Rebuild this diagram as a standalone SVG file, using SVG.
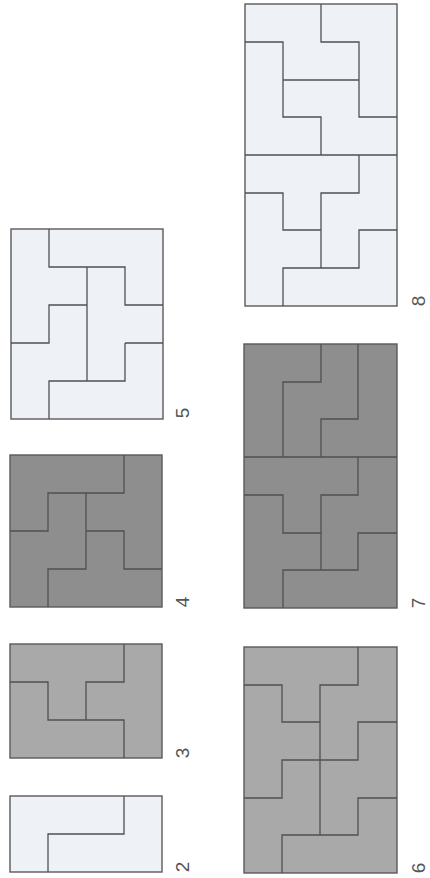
<svg xmlns="http://www.w3.org/2000/svg" width="430" height="878" viewBox="0 0 430 878">
<style>
.box{stroke:#5a5a5a;stroke-width:1.4}
.light{fill:#eef2f6}
.mid{fill:#a9a9a9}
.dark{fill:#8e8e8e}
.cut{fill:none;stroke:#505050;stroke-width:1.3;stroke-linejoin:miter}
.lbl{font-family:"Liberation Sans",Arial,sans-serif;font-size:19px;fill:#555;text-anchor:middle}
</style>
<rect width="430" height="878" fill="#ffffff"/>
<g id="tile2">
<rect class="box light" x="10" y="796" width="152" height="76"/>
<path class="cut" d="M124,796 V834 H48 V872"/>
<text class="lbl" transform="translate(189,867) rotate(-90)">2</text>
</g>
<g id="tile3">
<rect class="box mid" x="10" y="644" width="152" height="114"/>
<path class="cut" d="M124,644 V682 H86 V720 M10,682 H48 V720 H124 V758"/>
<text class="lbl" transform="translate(189,753) rotate(-90)">3</text>
</g>
<g id="tile4">
<rect class="box dark" x="10" y="455" width="152" height="152"/>
<path class="cut" d="M124,455 V493 H48 V531 H10 M86,493 V569 H48 V607 M86,531 H124 V569 H162"/>
<text class="lbl" transform="translate(189,602) rotate(-90)">4</text>
</g>
<g id="tile5">
<rect class="box light" x="11" y="229" width="152" height="190"/>
<path class="cut" d="M49,229 V267 H125 V305 H163 M87,267 V381 M87,305 H49 V343 H11 M125,343 H163 M125,343 V381 H49 V419"/>
<text class="lbl" transform="translate(189,413) rotate(-90)">5</text>
</g>
<g id="tile6">
<rect class="box mid" x="244" y="647" width="153" height="226"/>
<path class="cut" d="M358,647 V685 H320 V835 M244,685 H282 V722 H320 M397,722 H358 V760 H282 V798 H244 M397,798 H358 V835 H282 V873"/>
<text class="lbl" transform="translate(425,868) rotate(-90)">6</text>
</g>
<g id="tile7">
<rect class="box dark" x="244" y="344" width="153" height="264"/>
<path class="cut" d="M321,344 V382 H283 V457 M358,344 V419 H321 V457 M244,457 H397 M244,495 H283 V533 H321 M358,457 V495 H321 V570 M397,533 H358 V570 H283 V608"/>
<text class="lbl" transform="translate(425,603) rotate(-90)">7</text>
</g>
<g id="tile8">
<rect class="box light" x="245" y="4" width="152" height="302"/>
<path class="cut" d="M321,4 V42 H359 V117 H397 M245,42 H283 V117 H321 V155 M283,80 H359 M245,155 H397 M359,155 V193 H321 V268 M245,193 H283 V230 H321 M397,230 H359 V268 H283 V306"/>
<text class="lbl" transform="translate(425,301) rotate(-90)">8</text>
</g>
<g id="connectors"></g>
</svg>
